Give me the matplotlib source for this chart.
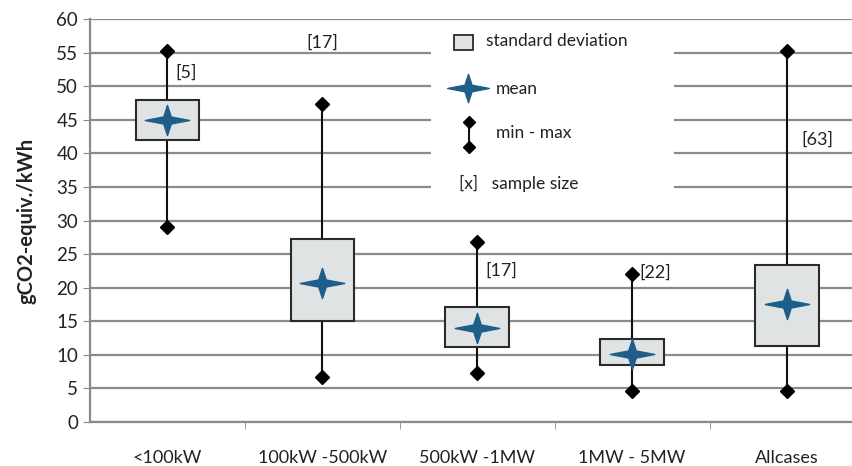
import matplotlib.pyplot as plt
import numpy as np
from matplotlib.path import Path
from matplotlib.patches import Rectangle

plt.rcParams['font.family'] = ['Lato', 'DejaVu Sans']

cats = ["<100kW", "100kW -500kW", "500kW -1MW", "1MW - 5MW", "Allcases"]
vmin = [29.0, 6.7, 7.3, 4.6, 4.6]
vmax = [55.2, 47.3, 26.8, 22.0, 55.2]
sd_low = [42.0, 15.0, 11.2, 8.5, 11.3]
sd_high = [48.0, 27.3, 17.2, 12.4, 23.4]
means = [45.0, 20.7, 14.0, 10.2, 17.5]
sizes = ["[5]", "[17]", "[17]", "[22]", "[63]"]
size_y = [52.0, 56.5, 22.6, 22.2, 42.0]
size_dx = [0.05, 0.0, 0.05, 0.05, 0.09]

# four-pointed star, wider than tall
star = Path([(-1, 0), (-0.17, 0.16), (0, 0.68), (0.17, 0.16), (1, 0),
             (0.17, -0.16), (0, -0.68), (-0.17, -0.16), (-1, 0)],
            [Path.MOVETO] + [Path.LINETO] * 7 + [Path.CLOSEPOLY])

star_col = "#1d5f8a"
box_face = "#dfe3e3"

fig = plt.figure(figsize=(8.52, 4.66), dpi=100)
ax = fig.add_axes([0.1056, 0.0944, 0.8944, 0.8646])

x = np.arange(len(cats))
ax.set_xlim(-0.5, 4.42)
ax.set_ylim(0, 60)
ax.set_yticks(range(0, 61, 5))
ax.yaxis.grid(True, color="#8a8a8a", lw=1.6)
ax.set_axisbelow(True)

for i in x:
    ax.plot([i, i], [vmin[i], vmax[i]], color="#111111", lw=1.5, zorder=2)
    ax.add_patch(Rectangle((i - 0.205, sd_low[i]), 0.41, sd_high[i] - sd_low[i],
                           facecolor=box_face, edgecolor="#2b2b2b", lw=1.5, zorder=3))
    ax.text(i + size_dx[i], size_y[i], sizes[i], fontsize=13, color="#222222",
            ha="center" if size_dx[i] == 0 else "left", va="center", zorder=4)

ax.plot(x, vmin, "D", color="black", ms=7, zorder=4)
ax.plot(x, vmax, "D", color="black", ms=7, zorder=4)
ax.plot(x, means, marker=star, ls="none", color=star_col, ms=32, zorder=5)

# legend drawn by hand
ax.add_patch(Rectangle((0.447, 0.56), 0.32, 0.425, transform=ax.transAxes,
                       facecolor="white", edgecolor="none", zorder=2))
ax.add_patch(Rectangle((0.478, 0.923), 0.024, 0.037, transform=ax.transAxes,
                       facecolor=box_face, edgecolor="#2b2b2b", lw=1.3, zorder=3))
ax.plot([0.496], [0.829], marker=star, color=star_col, ms=30, transform=ax.transAxes, zorder=3)
ax.plot([0.497, 0.497], [0.682, 0.745], color="#111111", lw=1.5, transform=ax.transAxes, zorder=3)
ax.plot([0.497, 0.497], [0.682, 0.745], "D", color="black", ms=6, transform=ax.transAxes, zorder=3)
ax.text(0.520, 0.945, "standard deviation", transform=ax.transAxes, fontsize=12.5, va="center", color="#222222")
ax.text(0.533, 0.826, "mean", transform=ax.transAxes, fontsize=12.5, va="center", color="#222222")
ax.text(0.533, 0.718, "min - max", transform=ax.transAxes, fontsize=12.5, va="center", color="#222222")
ax.text(0.484, 0.593, "[x]   sample size", transform=ax.transAxes, fontsize=12.5, va="center", color="#222222")

ax.set_xticks(x)
ax.set_xticklabels(cats, fontsize=13, color="#222222")
ax.set_xticks(np.arange(0.5, 4.0, 1), minor=True)
ax.tick_params(axis="x", which="major", length=0, pad=20)
ax.tick_params(axis="x", which="minor", length=5, color="#8a8a8a", direction="out")
ax.tick_params(axis="y", length=5, color="#8a8a8a", labelsize=13.5, labelcolor="#222222")

for s in ["top", "right"]:
    ax.spines[s].set_visible(False)
for s in ["left", "bottom"]:
    ax.spines[s].set_color("#8a8a8a")
    ax.spines[s].set_linewidth(1.6)

ax.set_ylabel("gCO2-equiv./kWh", fontsize=14.5, fontweight="bold", color="#222222", labelpad=14)

fig.savefig("out.png", dpi=100)
